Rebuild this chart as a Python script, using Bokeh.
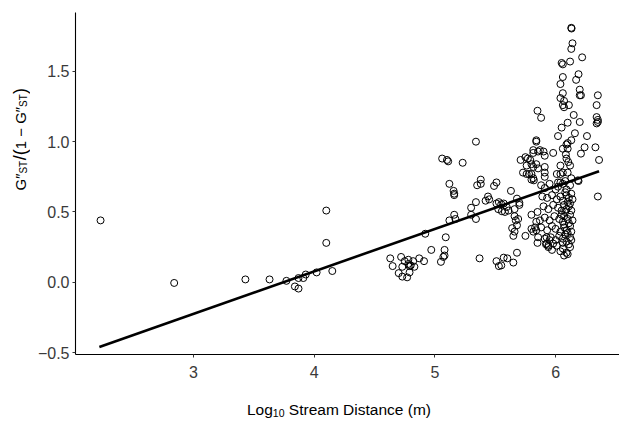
from math import pi
from bokeh.plotting import figure
from bokeh.models import Range1d, Label, FixedTicker
from bokeh.layouts import column, row
from bokeh.embed import file_html
from bokeh.resources import INLINE

# ---------------- data ----------------
x_ticks = [3, 4, 5, 6]
x_tick_labels = ["3", "4", "5", "6"]
y_ticks = [-0.5, 0.0, 0.5, 1.0, 1.5]
y_tick_labels = ["\u22120.5", "0.0", "0.5", "1.0", "1.5"]

# short-distance sites
ax = [2.23, 2.84, 3.43, 3.63, 3.77, 3.84, 3.87, 3.87, 3.91, 3.93, 4.02, 4.10, 4.10, 4.15]
ay = [0.44, -0.005, 0.02, 0.02, 0.01, -0.03, -0.045, 0.03, 0.03, 0.055, 0.07, 0.51, 0.28, 0.08]
# low group near 4.8
bx = [4.63, 4.65, 4.72, 4.73, 4.75, 4.78, 4.78, 4.79, 4.80, 4.82, 4.83, 4.87, 4.91, 4.70, 4.73, 4.77, 4.79]
by = [0.17, 0.115, 0.18, 0.11, 0.15, 0.16, 0.13, 0.115, 0.12, 0.15, 0.11, 0.17, 0.15, 0.065, 0.04, 0.035, 0.07]
# middle distances
cx = [4.92, 4.97, 5.08, 5.08, 5.07, 5.05, 5.09, 5.06, 5.10, 5.11, 5.23, 5.12, 5.155, 5.16, 5.16,
      5.34, 5.35, 5.38, 5.38, 5.51, 5.49, 5.63, 5.44, 5.42, 5.45, 5.34, 5.30, 5.30, 5.34, 5.16,
      5.17, 5.12, 5.37, 5.51, 5.53, 5.57, 5.60, 5.65, 5.68, 5.55]
cy = [0.345, 0.23, 0.23, 0.19, 0.18, 0.145, 0.32, 0.88, 0.87, 0.86, 0.85, 0.70, 0.65, 0.63, 0.62,
      1.00, 0.69, 0.73, 0.70, 0.71, 0.685, 0.65, 0.61, 0.58, 0.59, 0.57, 0.53, 0.48, 0.45, 0.48,
      0.45, 0.44, 0.17, 0.15, 0.115, 0.175, 0.17, 0.14, 0.21, 0.12]
# points close to the fitted line
dx = [5.51, 5.53, 5.55, 5.57, 5.595, 5.525, 5.555, 5.58, 5.61, 5.68, 5.70, 5.66, 5.70, 5.66, 5.69,
      5.67, 5.68, 5.64, 5.66, 5.65, 5.75]
dy = [0.56, 0.57, 0.555, 0.56, 0.535, 0.52, 0.505, 0.50, 0.51, 0.595, 0.55, 0.52, 0.565, 0.47, 0.45,
      0.44, 0.405, 0.385, 0.36, 0.33, 0.33]
ex = [5.815, 5.85, 5.92, 5.80, 5.84, 5.83, 5.80, 5.84, 5.85, 5.87, 5.855, 5.95, 5.94, 5.925, 5.925, 5.98]
ey = [0.36, 0.28, 0.27, 0.48, 0.43, 0.39, 0.38, 0.37, 0.50, 0.44, 0.32, 0.30, 0.26, 0.32, 0.275, 0.275]
fx = [5.85, 5.88, 5.84, 5.84, 5.855, 5.815, 5.75, 5.77, 5.79, 5.76, 5.80, 5.815, 5.78, 5.80, 5.815,
      5.82, 5.855, 5.91, 5.98, 5.87, 5.90, 5.91, 5.84, 5.91, 5.91, 5.76, 5.80, 5.71, 5.73, 5.815]
fy = [1.22, 1.17, 1.01, 1.00, 0.93, 0.92, 0.89, 0.88, 0.87, 0.83, 0.84, 0.82, 0.77, 0.77, 0.74,
      0.725, 0.81, 0.75, 0.92, 0.94, 0.93, 0.90, 0.84, 0.82, 0.78, 0.77, 0.73, 0.87, 0.78, 0.94]
gx = [6.04, 6.01, 6.04, 6.02, 6.06, 6.10, 6.09, 6.10, 6.085, 6.09, 6.105, 6.12, 6.06, 6.19, 6.21,
      6.24, 6.33, 6.36, 6.35, 6.13, 6.185, 6.04]
gy = [0.83, 0.77, 0.77, 0.71, 0.78, 0.78, 0.98, 0.95, 0.91, 0.88, 0.855, 0.83, 0.95, 0.72, 0.915,
      0.96, 0.96, 0.87, 0.61, 0.74, 0.725, 0.71]
# upper tail
hx = [6.13, 6.132, 6.14, 6.13, 6.22, 6.12, 6.05, 6.06, 6.19, 6.17, 6.06, 6.04, 6.20, 6.20, 6.21,
      6.06, 6.04, 6.07, 6.06, 6.07, 6.11, 6.35, 6.34, 6.34, 6.35, 6.35, 6.34, 6.15, 6.20, 6.10,
      6.05, 6.16, 6.02, 6.26, 6.13, 6.10]
hy = [1.81, 1.805, 1.70, 1.66, 1.60, 1.57, 1.56, 1.55, 1.48, 1.44, 1.46, 1.41, 1.37, 1.33, 1.33,
      1.345, 1.31, 1.29, 1.26, 1.245, 1.26, 1.33, 1.26, 1.175, 1.155, 1.14, 1.13, 1.19, 1.14, 1.135,
      1.10, 1.06, 1.04, 1.04, 1.01, 0.99]
# dense cluster at the longest distances
ix = [5.88, 5.91, 5.95, 6.00, 6.02, 6.06, 6.09, 6.12,
      5.89, 5.93, 5.97, 6.01, 6.04, 6.06, 6.09, 6.11, 6.14,
      5.90, 5.94, 5.98, 6.02, 6.05, 6.07, 6.09, 6.11, 6.13,
      5.91, 5.95, 5.99, 6.03, 6.06, 6.07, 6.10, 6.12, 6.14,
      5.88, 5.93, 5.97, 6.00, 6.04, 6.07, 6.09, 6.12, 6.13,
      5.91, 5.96, 6.00, 6.03, 6.06, 6.09, 6.12,
      5.94, 5.97, 6.01, 6.04, 6.06, 6.09, 6.12,
      6.08, 6.10, 6.08, 6.11, 6.08, 6.11, 6.07, 6.10, 6.13, 6.05, 6.12, 6.07, 6.10, 6.06, 6.13, 6.08]
iy = [0.69, 0.67, 0.70, 0.66, 0.68, 0.70, 0.66, 0.69,
      0.61, 0.60, 0.62, 0.59, 0.61, 0.58, 0.62, 0.60, 0.59,
      0.54, 0.52, 0.55, 0.53, 0.51, 0.55, 0.52, 0.54, 0.51,
      0.46, 0.44, 0.47, 0.45, 0.43, 0.47, 0.45, 0.48, 0.44,
      0.39, 0.37, 0.40, 0.38, 0.36, 0.39, 0.37, 0.40, 0.36,
      0.31, 0.32, 0.30, 0.33, 0.31, 0.29, 0.32,
      0.25, 0.23, 0.26, 0.22, 0.24, 0.21, 0.25,
      0.64, 0.57, 0.50, 0.42, 0.34, 0.27, 0.19, 0.20, 0.30, 0.48, 0.56, 0.41, 0.35, 0.28, 0.63, 0.72]

log_distance = ax + bx + cx + dx + ex + fx + gx + hx + ix
gst_ratio = ay + by + cy + dy + ey + fy + gy + hy + iy

# fitted regression line end points
fit_x = [2.22, 6.36]
fit_y = [-0.46, 0.79]

# ---------------- figures ----------------
FONT = "Liberation Sans"
MAIN_H = 392

p = figure(width=589, height=MAIN_H, output_backend="svg", toolbar_location=None,
           x_range=Range1d(2.0224, 6.5294), y_range=Range1d(-0.514, 1.919),
           min_border_left=45, min_border_right=0, min_border_top=12, min_border_bottom=38,
           background_fill_color="white", border_fill_color="white")
p.outline_line_color = None
p.grid.visible = False

p.scatter(log_distance, gst_ratio, marker="circle", size=7, fill_color=None,
          line_color="black", line_width=1)
p.line(fit_x, fit_y, line_color="black", line_width=2.6)

for axis, ticks, labels in ((p.xaxis[0], x_ticks, x_tick_labels), (p.yaxis[0], y_ticks, y_tick_labels)):
    axis.ticker = FixedTicker(ticks=ticks)
    axis.major_label_overrides = {t: l for t, l in zip(ticks, labels)}
    axis.minor_tick_line_color = None
    axis.major_tick_in = 0
    axis.major_tick_out = 3
    axis.major_tick_line_color = "#333333"
    axis.axis_line_color = "black"
    axis.axis_line_width = 1.1
    axis.major_label_text_font = FONT
    axis.major_label_text_font_size = "16px"
    axis.major_label_text_color = "#3a3a3a"
p.xaxis.major_label_standoff = 8
p.yaxis.major_label_standoff = 3


def blank(w, h):
    f = figure(width=w, height=h, output_backend="svg", toolbar_location=None,
               x_axis_type=None, y_axis_type=None, min_border=0,
               x_range=Range1d(0, 1), y_range=Range1d(0, 1),
               background_fill_color="white", border_fill_color="white")
    f.outline_line_color = None
    f.grid.visible = False
    return f


def piece(fig, text, x, y, size, angle=0.0):
    fig.add_layout(Label(x=x, y=y, x_units="screen", y_units="screen", text=text,
                         text_font=FONT, text_font_size=f"{size}px", text_color="black",
                         angle=angle, text_align="left", text_baseline="alphabetic"))


# y-axis title: G''ST / (1 - G''ST), rotated
yt = blank(30, MAIN_H)
bx0, sbx = 19.5, 22.5
y0 = 164.0
piece(yt, "G\u2033", bx0, y0, 15, pi / 2)
piece(yt, "ST", sbx, y0 + 16.9, 10, pi / 2)
piece(yt, "/", bx0, y0 + 30.2, 18, pi / 2)
piece(yt, "(", bx0, y0 + 35.2, 18, pi / 2)
piece(yt, "1 \u2212 G\u2033", bx0, y0 + 41.2, 15, pi / 2)
piece(yt, "ST", sbx, y0 + 83.6, 10, pi / 2)
piece(yt, ")", bx0, y0 + 96.4, 18, pi / 2)

# x-axis title: Log10 Stream Distance (m)
xt = blank(619, 421 - MAIN_H)
sx, sy = 246.5, 12.0
piece(xt, "Log", sx, sy, 15.5)
piece(xt, "10", sx + 25.85, sy - 3.5, 10.5)
piece(xt, "Stream Distance (m)", sx + 25.85 + 11.68 + 4.31, sy, 15.5)

layout = column(row(yt, p), xt)
open("out.html", "w").write(file_html(layout, INLINE))
